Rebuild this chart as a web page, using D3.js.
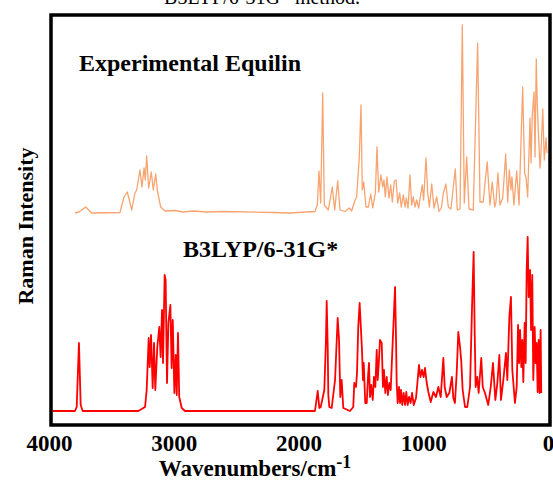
<!DOCTYPE html>
<html>
<head>
<meta charset="utf-8">
<script src="https://cdn.jsdelivr.net/npm/d3@7"></script>
<style>
  body { margin: 0; background: #fff; }
  text { font-family: "Liberation Serif", "Times New Roman", serif; }
</style>
</head>
<body>
<div id="chart"></div>
<script>
// tick labels on the wavenumber axis
const xTicks = [4000, 3000, 2000, 1000, 0];

// experimental Raman spectrum (wavenumber, intensity above its own baseline)
const expWn = [3792, 3760, 3706, 3658, 3431, 3399, 3372, 3337, 3311, 3297, 3271, 3255, 3238, 3228, 3217, 3201, 3180, 3164, 3145, 3132, 3105, 3070, 2990, 2926, 2843, 2736, 2605, 2204, 2068,
  1868, 1849, 1836, 1822, 1806, 1793, 1761, 1729, 1710, 1686, 1667, 1627, 1593, 1574, 1547, 1534, 1513, 1499, 1489, 1477, 1459, 1440, 1421, 1405, 1384, 1371, 1357, 1339, 1325, 1315, 1304, 1291, 1275, 1261, 1248, 1232, 1218, 1205, 1189, 1176, 1160, 1146, 1136, 1122, 1106, 1093, 1080, 1066, 1053, 1037, 1021, 1008, 997, 978, 964, 951, 932, 914, 892, 874, 855, 839, 818, 799, 778, 743, 727, 705, 687, 671, 652, 633, 599, 564, 545, 519, 505, 487, 475, 465, 447, 427, 417, 401, 385, 363, 339, 323, 310, 297, 289, 273, 251, 232, 203, 187, 176, 163, 144, 136, 126, 112, 104, 94, 86, 78, 64, 59, 42, 30, 16, 8];
const expInt = [0, 1, 6, 0, 0.5, 16, 21, 3, 20, 23, 43, 26, 45, 33, 57, 25, 41, 23, 39, 23, 6, 2, 2.5, 1, 2, 1, 1.5, 0.5, 0,
  1.5, 8, 42, 10, 120, 8, 3, 26, 3, 32, 3, 1.5, 5, 2, 13, 16, 55, 108, 23, 31, 6, 6, 19, 5, 20, 66, 21, 38, 26, 33, 16, 36, 15, 28, 11, 32, 33, 10, 20, 6, 18, 6, 15, 5, 38, 8, 16, 6, 13, 5, 18, 28, 13, 55, 20, 6, 29, 5, 16, 1.5, 5, 20, 29, 6, 4, 44, 3, 4, 188, 10, 56, 4, 3, 170, 11, 11, 30, 51, 26, 8, 31, 6, 11, 40, 8, 15, 59, 11, 43, 23, 36, 8, 42, 8, 126, 40, 35, 16, 95, 50, 98, 121, 56, 154, 110, 83, 45, 53, 104, 53, 75, 60];

// B3LYP/6-31G* computed spectrum
const calcWn = [3970, 3792, 3778, 3760, 3746, 3730, 3284, 3230, 3217, 3201, 3193, 3182, 3169, 3158, 3148, 3132, 3116, 3105, 3094, 3086, 3073, 3065, 3054, 3043, 3027, 3017, 3008, 2995, 2984, 2976, 2966, 2956, 2936, 2910,
  1868, 1846, 1833, 1822, 1793, 1780, 1774, 1766, 1761, 1753, 1734, 1707, 1686, 1675, 1665, 1654, 1641, 1587, 1561, 1553, 1539, 1531, 1521, 1510, 1499, 1491, 1483, 1477, 1465, 1453, 1443, 1435, 1427, 1417, 1405, 1395, 1384, 1373, 1365, 1355, 1347, 1333, 1323, 1315, 1304, 1293, 1283, 1272, 1261, 1250, 1226, 1218, 1213, 1205, 1194, 1186, 1178, 1168, 1157, 1146, 1136, 1125, 1114, 1101, 1090, 1076, 1058, 1034, 1023, 1010, 997, 986, 972, 959, 940, 919, 898, 879, 860, 839, 828, 812, 791, 770, 759, 746, 732, 719, 705, 695, 684, 665, 647, 625, 609, 596, 588, 580, 567, 556, 535, 523, 505, 479, 459, 441, 422, 406, 390, 377, 358, 337, 326, 310, 297, 286, 265, 251, 240, 232, 224, 214, 206, 198, 187, 179, 171, 163, 155, 144, 136, 126, 118, 107, 99, 91, 83, 75, 67, 59, 54];
const calcInt = [0, 0, 4, 68, 6, 0, 0, 4, 21, 73, 44, 76, 23, 68, 21, 64, 84, 54, 101, 48, 136, 131, 28, 88, 106, 43, 91, 18, 56, 16, 78, 14, 3, 0,
  0, 20, 3, 4, 21, 71, 110, 66, 16, 4, 3, 31, 93, 71, 14, 31, 3, 0, 4, 28, 24, 38, 84, 108, 81, 61, 31, 48, 8, 8, 34, 48, 14, 26, 11, 34, 24, 61, 31, 51, 71, 68, 24, 41, 18, 34, 16, 28, 21, 54, 124, 71, 28, 8, 24, 8, 21, 6, 18, 6, 19, 6, 14, 8, 18, 6, 13, 46, 34, 41, 34, 43, 28, 19, 9, 19, 14, 24, 14, 53, 24, 14, 18, 34, 13, 8, 38, 79, 64, 49, 21, 4, 4, 24, 104, 159, 81, 24, 34, 18, 53, 24, 18, 6, 24, 48, 11, 28, 56, 11, 31, 58, 31, 94, 114, 41, 8, 24, 86, 48, 81, 44, 71, 29, 88, 48, 141, 174, 114, 141, 81, 136, 31, 84, 48, 68, 19, 71, 18, 81, 18];

// vertical offsets of the two stacked traces
const expOffset = 212, calcOffset = 14;

const W = 553, H = 481;
const svg = d3.select("#chart")
  .append("svg")
    .attr("width", W)
    .attr("height", H);

const x = d3.scaleLinear().domain([4000, 0]).range([49, 548]);
const y = d3.scaleLinear().domain([0, 410]).range([425, 15]);

// traces
const line = d3.line()
  .x(d => x(d[0]))
  .y(d => y(d[1]));

svg.append("path")
  .datum(expWn.map((w, i) => [w, expInt[i] + expOffset]))
  .attr("d", line)
  .attr("fill", "none")
  .attr("stroke", "#f7a470")
  .attr("stroke-width", 1.3)
  .attr("stroke-linejoin", "round");

svg.append("path")
  .datum(calcWn.map((w, i) => [w, calcInt[i] + calcOffset]))
  .attr("d", line)
  .attr("fill", "none")
  .attr("stroke", "#ff0000")
  .attr("stroke-width", 1.8)
  .attr("stroke-linejoin", "round");

// frame
svg.append("rect")
  .attr("x", 51).attr("y", 15)
  .attr("width", 499).attr("height", 410)
  .attr("fill", "none")
  .attr("stroke", "#000")
  .attr("stroke-width", 3.5);

// x axis labels (no tick marks)
const xAxis = svg.append("g")
  .attr("transform", "translate(0, 425)")
  .call(d3.axisBottom(x).tickValues(xTicks).tickSize(0).tickPadding(10).tickFormat(d3.format("d")));
xAxis.select(".domain").remove();
xAxis.selectAll("text")
  .attr("fill", "#000")
  .style("font-family", "'Liberation Serif', serif")
  .style("font-size", "23px")
  .style("font-weight", "bold");

// axis titles
const xt = svg.append("text")
  .attr("x", 255).attr("y", 476)
  .attr("text-anchor", "middle")
  .style("font-size", "23px")
  .style("font-weight", "bold")
  .text("Wavenumbers/cm");
xt.append("tspan")
  .attr("dy", -8)
  .style("font-size", "18px")
  .text("-1");

svg.append("text")
  .attr("transform", "translate(33, 226) rotate(-90)")
  .attr("text-anchor", "middle")
  .style("font-size", "22px")
  .style("font-weight", "bold")
  .text("Raman Intensity");

// labels
svg.append("text")
  .attr("x", 262).attr("y", 4)
  .attr("text-anchor", "middle")
  .style("font-size", "20px")
  .text("B3LYP/6-31G* method.");

svg.append("text")
  .attr("x", 79).attr("y", 71)
  .style("font-size", "24px")
  .style("font-weight", "bold")
  .text("Experimental Equilin");

svg.append("text")
  .attr("x", 183).attr("y", 257)
  .style("font-size", "24px")
  .style("font-weight", "bold")
  .text("B3LYP/6-31G*");
</script>
</body>
</html>
